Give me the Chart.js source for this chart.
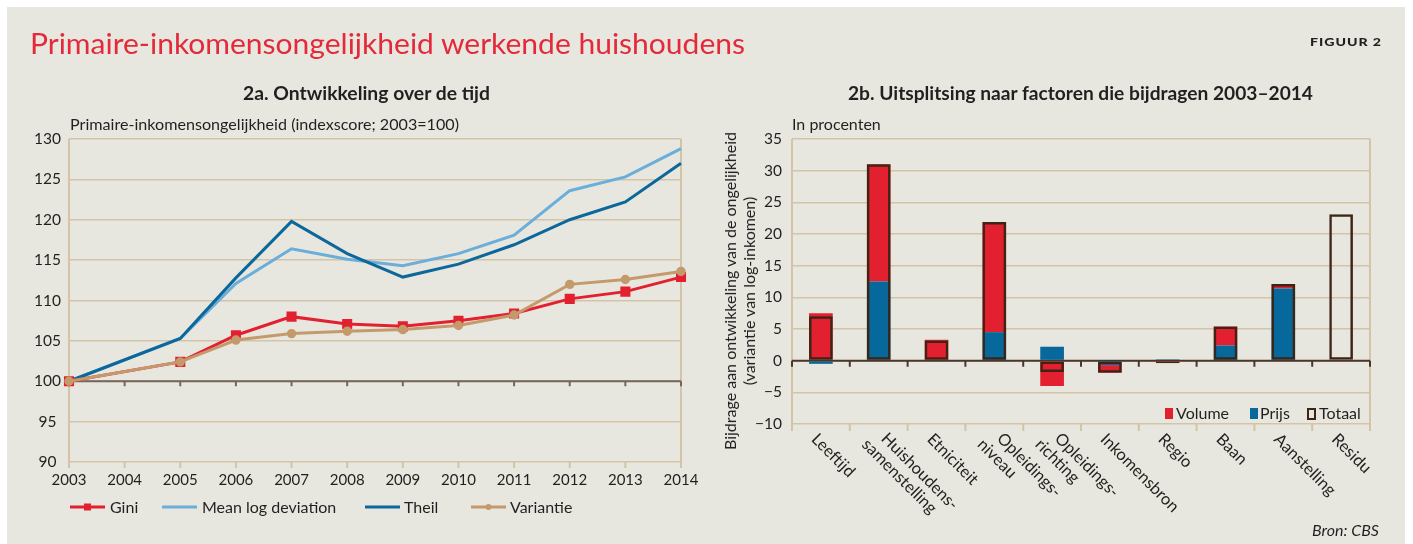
<!DOCTYPE html>
<html>
<head>
<meta charset="utf-8">
<script src="https://cdn.jsdelivr.net/npm/chart.js@4.4.0/dist/chart.umd.min.js"></script>
<style>
  html, body { margin: 0; padding: 0; background: #ffffff; }
  #page { position: relative; width: 1413px; height: 544px; overflow: hidden; background: #ffffff; font-family: Lato, "Open Sans", sans-serif; color: #231f20; }
  #bg { position: absolute; left: 7px; top: 7px; width: 1398px; height: 537px; background: #e8e7df; }
  canvas { position: absolute; top: 0; }
  .t { position: absolute; white-space: nowrap; line-height: 1; transform-origin: left top; }
  .leg { position: absolute; white-space: nowrap; line-height: 1; font-size: 16px; }
  .sym { position: absolute; }
</style>
</head>
<body>
<div id="page">
  <div id="bg"></div>
  <canvas id="cA" width="700" height="544" style="left:0"></canvas>
  <canvas id="cB" width="713" height="544" style="left:700px"></canvas>

  <div class="t" id="title" style="left:30px; top:29px; font-size:28px; color:#e42a3a;">Primaire-inkomensongelijkheid werkende huishoudens</div>
  <div class="t" id="fig" style="left:1310px; top:36px; font-size:12px; font-weight:900; letter-spacing:0.8px;">FIGUUR 2</div>
  <div class="t" id="subA" style="left:243px; top:84px; font-size:18px; font-weight:700;">2a. Ontwikkeling over de tijd</div>
  <div class="t" id="subB" style="left:848px; top:84px; font-size:18px; font-weight:700;">2b. Uitsplitsing naar factoren die bijdragen 2003–2014</div>
  <div class="t" id="axA" style="left:70px; top:116px; font-size:16px;">Primaire-inkomensongelijkheid (indexscore; 2003=100)</div>
  <div class="t" id="axB" style="left:792px; top:116px; font-size:16px;">In procenten</div>
  <div id="yTitleB" style="position:absolute; left:739px; top:291px; transform:translate(-50%,-50%) rotate(-90deg); font-size:16px; line-height:19px; text-align:center; white-space:nowrap;">Bijdrage aan ontwikkeling van de ongelijkheid<br>(variantie van log-inkomen)</div>
  <div class="t" id="bron" style="left:1312px; top:522px; font-size:16px; font-style:italic;">Bron: CBS</div>

  <!-- legend 2a -->
  <svg class="sym" style="left:70px; top:501px" width="35" height="12"><line x1="0" y1="6" x2="35" y2="6" stroke="#e3202f" stroke-width="3"/><rect x="14" y="2.5" width="7" height="7" fill="#e3202f"/></svg>
  <div class="leg" style="left:110px; top:499px">Gini</div>
  <svg class="sym" style="left:162px; top:501px" width="35" height="12"><line x1="0" y1="6" x2="35" y2="6" stroke="#6aaed9" stroke-width="3"/></svg>
  <div class="leg" style="left:202px; top:499px">Mean log deviation</div>
  <svg class="sym" style="left:365px; top:501px" width="35" height="12"><line x1="0" y1="6" x2="35" y2="6" stroke="#0c679b" stroke-width="3"/></svg>
  <div class="leg" style="left:404px; top:499px">Theil</div>
  <svg class="sym" style="left:471px; top:501px" width="35" height="12"><line x1="0" y1="6" x2="35" y2="6" stroke="#c49a6c" stroke-width="3"/><circle cx="17.5" cy="6" r="3" fill="#c49a6c"/></svg>
  <div class="leg" style="left:510px; top:499px">Variantie</div>

  <!-- legend 2b -->
  <div class="sym" style="left:1165px; top:408px; width:8px; height:11px; background:#e3202f;"></div>
  <div class="leg" style="left:1176px; top:405px">Volume</div>
  <div class="sym" style="left:1250px; top:408px; width:8px; height:11px; background:#07699b;"></div>
  <div class="leg" style="left:1260px; top:405px">Prijs</div>
  <div class="sym" style="left:1307px; top:408px; width:5px; height:8px; border:2px solid #3d2516;"></div>
  <div class="leg" style="left:1319px; top:405px">Totaal</div>
</div>

<script>
// ---------- Data: figure 2a ----------
const years = ['2003','2004','2005','2006','2007','2008','2009','2010','2011','2012','2013','2014'];
const gini              = [100, null, 102.4, 105.7, 108.0, 107.1, 106.8, 107.5, 108.4, 110.2, 111.1, 112.9];
const meanLogDeviation  = [100, null, 105.3, 112.1, 116.4, 115.1, 114.3, 115.8, 118.1, 123.6, 125.3, 128.8];
const theil             = [100, null, 105.3, 112.8, 119.8, 115.8, 112.9, 114.5, 116.9, 120.0, 122.2, 127.0];
const variantie         = [100, null, 102.4, 105.1, 105.9, 106.2, 106.4, 106.9, 108.2, 112.0, 112.6, 113.6];

// ---------- Data: figure 2b ----------
const factoren = [['Leeftijd'], ['Huishoudens-','samenstelling'], ['Etniciteit'], ['Opleidings-','niveau'],
                  ['Opleidings-','richting'], ['Inkomensbron'], ['Regio'], ['Baan'], ['Aanstelling'], ['Residu']];
const volume = [7.5, 18.5, 3.3, 17.4, -4.0, -1.2, -0.3, 3.0, 0.7, null];
const prijs  = [-0.5, 12.5, -0.1, 4.5, 2.2, -0.7, 0.2, 2.4, 11.4, null];
const totaal = [7.0, 31.0, 3.2, 21.9, -1.8, -1.9, -0.4, 5.4, 12.1, 23.1];

const TAN = '#d3c4a8';
const DARK100 = '#75665c';
const ZERO = '#4b362b';
const TXT = '#231f20';
const FONT = 'Lato, "Open Sans", sans-serif';

Chart.defaults.font.family = FONT;
Chart.defaults.color = TXT;

const decorA = {
  id: 'decorA',
  beforeDatasetsDraw(chart) {
    const { ctx, chartArea: a, scales: { x, y } } = chart;
    ctx.save();
    ctx.strokeStyle = TAN; ctx.lineWidth = 2;
    ctx.beginPath();
    ctx.moveTo(a.left, a.top); ctx.lineTo(a.left, a.bottom + 6);
    ctx.moveTo(a.right, a.top); ctx.lineTo(a.right, a.bottom + 6);
    years.forEach((_, i) => { const px = x.getPixelForValue(i); ctx.moveTo(px, a.bottom); ctx.lineTo(px, a.bottom + 6); });
    ctx.stroke();
    const y100 = y.getPixelForValue(100);
    ctx.strokeStyle = DARK100; ctx.lineWidth = 2;
    ctx.beginPath();
    ctx.moveTo(a.left, y100); ctx.lineTo(a.right, y100);
    years.forEach((_, i) => { const px = x.getPixelForValue(i); ctx.moveTo(px, y100); ctx.lineTo(px, y100 + 5); });
    ctx.stroke();
    ctx.restore();
  }
};

new Chart(document.getElementById('cA'), {
  type: 'line',
  data: {
    labels: years,
    datasets: [
      { label: 'Variantie', data: variantie, borderColor: '#c49a6c', backgroundColor: '#c49a6c', borderWidth: 3, pointStyle: 'circle', pointRadius: 3.2, order: 0 },
      { label: 'Gini', data: gini, borderColor: '#e3202f', backgroundColor: '#e3202f', borderWidth: 3, pointStyle: 'rect', pointRadius: 5, order: 1 },
      { label: 'Theil', data: theil, borderColor: '#0c679b', backgroundColor: '#0c679b', borderWidth: 3, pointRadius: 0, order: 2 },
      { label: 'Mean log deviation', data: meanLogDeviation, borderColor: '#6aaed9', backgroundColor: '#6aaed9', borderWidth: 3, pointRadius: 0, order: 3 }
    ]
  },
  options: {
    responsive: false, animation: false, spanGaps: true,
    layout: { padding: { top: 139, right: 19, left: 0, bottom: 0 } },
    plugins: { legend: { display: false }, tooltip: { enabled: false } },
    elements: { line: { tension: 0 }, point: { borderWidth: 0, hoverRadius: 0 } },
    scales: {
      x: {
        grid: { display: false, drawTicks: false }, border: { display: false },
        ticks: { font: { size: 15 }, padding: 9, maxRotation: 0, autoSkip: false, color: TXT },
        afterFit: s => { s.height = 82; s.paddingLeft = 0; s.paddingRight = 0; }
      },
      y: {
        min: 90, max: 130,
        ticks: { stepSize: 5, font: { size: 15.5 }, padding: 8, crossAlign: 'center', color: TXT },
        grid: { color: TAN, lineWidth: 1.6, drawTicks: false }, border: { display: false },
        afterFit: s => { s.width = 69; }
      }
    }
  },
  plugins: [decorA]
});

const decorB = {
  id: 'decorB',
  beforeDatasetsDraw(chart) {
    const { ctx, chartArea: a, scales: { x, y } } = chart;
    const step = x.getPixelForValue(1) - x.getPixelForValue(0);
    const bounds = factoren.map((_, i) => x.getPixelForValue(i) - step / 2);
    bounds.push(x.getPixelForValue(factoren.length - 1) + step / 2);
    ctx.save();
    ctx.strokeStyle = TAN; ctx.lineWidth = 2;
    ctx.beginPath();
    ctx.moveTo(a.left, a.top); ctx.lineTo(a.left, a.bottom);
    ctx.moveTo(a.right, a.top); ctx.lineTo(a.right, a.bottom);
    bounds.forEach(px => { ctx.moveTo(px, a.bottom); ctx.lineTo(px, a.bottom + 7); });
    ctx.stroke();
    const y0 = y.getPixelForValue(0);
    ctx.strokeStyle = ZERO; ctx.lineWidth = 2;
    ctx.beginPath();
    ctx.moveTo(a.left, y0); ctx.lineTo(a.right, y0);
    bounds.forEach(px => { ctx.moveTo(px, y0); ctx.lineTo(px, y0 + 6); });
    ctx.stroke();
    ctx.restore();
  },
  afterDraw(chart) {
    const { ctx, chartArea: a, scales: { x } } = chart;
    ctx.save();
    ctx.fillStyle = TXT;
    ctx.font = '16.5px ' + FONT;
    ctx.textAlign = 'left';
    ctx.textBaseline = 'alphabetic';
    factoren.forEach((lines, i) => {
      const cx = x.getPixelForValue(i);
      ctx.save();
      ctx.translate(cx + 2, a.bottom + 6);
      ctx.rotate(Math.PI / 4);
      const n = lines.length;
      lines.forEach((ln, k) => {
        const along = n === 1 ? -1.5 : (k === 0 ? 6.5 : -3);
        const perp = 16 + (k - (n - 1) / 2) * 18;
        ctx.fillText(ln, along, perp);
      });
      ctx.restore();
    });
    ctx.restore();
  }
};

new Chart(document.getElementById('cB'), {
  type: 'bar',
  data: {
    labels: factoren,
    datasets: [
      { label: 'Totaal', data: totaal, stack: 't', order: 0, backgroundColor: 'rgba(0,0,0,0)', borderColor: '#3d2516', borderWidth: 2.5, borderSkipped: false,
        grouped: false, categoryPercentage: 1, barPercentage: 0.41 },
      { label: 'Prijs', data: prijs, stack: 'vp', order: 1, backgroundColor: '#07699b', borderWidth: 0,
        grouped: false, categoryPercentage: 1, barPercentage: 0.41 },
      { label: 'Volume', data: volume, stack: 'vp', order: 2, backgroundColor: '#e3202f', borderWidth: 0,
        grouped: false, categoryPercentage: 1, barPercentage: 0.41 }
    ]
  },
  options: {
    responsive: false, animation: false,
    layout: { padding: { top: 139, right: 43, left: 0, bottom: 0 } },
    plugins: { legend: { display: false }, tooltip: { enabled: false } },
    scales: {
      x: {
        grid: { display: false, drawTicks: false }, border: { display: false },
        ticks: { display: false },
        afterFit: s => { s.height = 120; s.paddingLeft = 0; s.paddingRight = 0; }
      },
      y: {
        stacked: true, min: -10, max: 35,
        ticks: { stepSize: 5, font: { size: 15.5 }, padding: 10, color: TXT,
                 callback: v => String(v).replace('-', '\u2212') },
        grid: { color: TAN, lineWidth: 1.6, drawTicks: false }, border: { display: false },
        afterFit: s => { s.width = 92; }
      }
    }
  },
  plugins: [decorB]
});

function fitText(id, w) {
  const el = document.getElementById(id);
  el.style.transform = 'none';
  const r = el.getBoundingClientRect().width;
  if (r > 0) el.style.transform = 'scaleX(' + (w / r) + ')';
}
function fitAll() {
  fitText('title', 715);
  fitText('subA', 247);
  fitText('subB', 465);
  fitText('fig', 72);
  fitText('axA', 389);
}
fitAll();
if (document.fonts && document.fonts.ready) document.fonts.ready.then(fitAll);
</script>
</body>
</html>
